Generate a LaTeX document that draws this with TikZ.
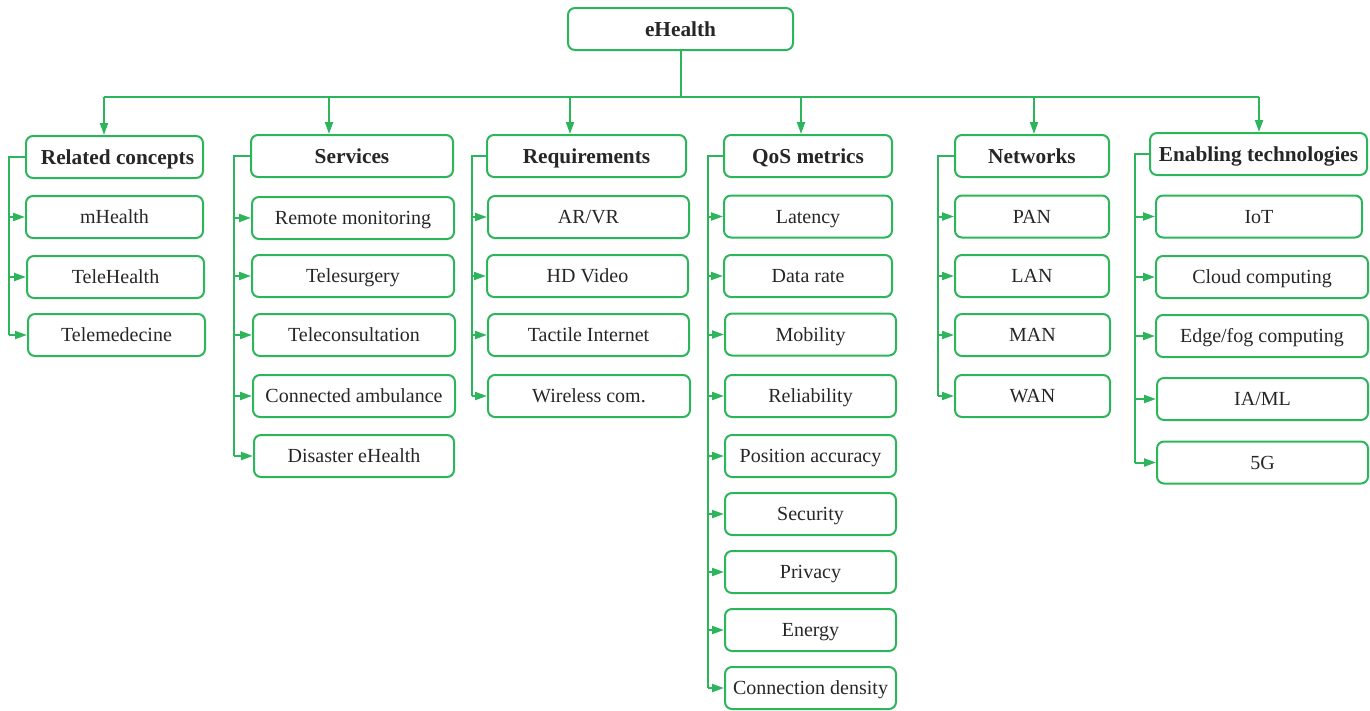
\documentclass[tikz,border=0pt]{standalone}
\usepackage{fontspec}
\setmainfont{Liberation Serif}
\usetikzlibrary{arrows.meta}
\definecolor{lg}{RGB}{44,181,90}
\begin{document}
\begin{tikzpicture}[x=1pt,y=-1pt,
  box/.style={draw=lg, line width=2pt, rounded corners=7pt, minimum height=42pt,
    inner sep=0pt, text height=13pt, text depth=0pt, text=black!85,
    font=\fontsize{20}{24}\selectfont},
  head/.style={box, text height=14pt, font=\fontsize{21.3}{25}\selectfont\bfseries},
  link/.style={draw=lg, line width=2pt},
  arr/.style={link, -{Triangle[length=12pt,width=8pt]}}]
\useasboundingbox (0,0) rectangle (1370,710);

% root
\node[head, minimum width=225pt] (eh) at (680.5,29) {eHealth};

% headings
\node[head, minimum width=177pt] (h1) at (114.5,157) {\hspace{6pt}Related concepts};
\node[head, minimum width=202pt] (h2) at (352,156) {Services};
\node[head, minimum width=199pt] (h3) at (586.5,156) {Requirements};
\node[head, minimum width=168pt] (h4) at (808,156) {QoS metrics};
\node[head, minimum width=154pt] (h5) at (1032,156) {Networks};
\node[head, minimum width=217pt] (h6) at (1258.5,154) {Enabling technologies};

% related concepts
\node[box, minimum width=177pt] (a1) at (114.5,217) {mHealth};
\node[box, minimum width=177pt] (a2) at (115.5,277) {TeleHealth};
\node[box, minimum width=177pt] (a3) at (116.5,335) {Telemedecine};

% services
\node[box, minimum width=202pt] (b1) at (353,218) {Remote monitoring};
\node[box, minimum width=202pt] (b2) at (353,276) {Telesurgery};
\node[box, minimum width=202pt] (b3) at (354,335) {Teleconsultation};
\node[box, minimum width=202pt] (b4) at (354,396) {Connected ambulance};
\node[box, minimum width=200pt] (b5) at (354,456) {Disaster eHealth};

% requirements
\node[box, minimum width=201pt] (c1) at (588.5,217) {AR/VR};
\node[box, minimum width=201pt] (c2) at (587.5,276) {HD Video};
\node[box, minimum width=201pt] (c3) at (588.5,335) {Tactile Internet};
\node[box, minimum width=202pt] (c4) at (589,396) {Wireless com.};

% QoS metrics
\node[box, minimum width=168pt] (d1) at (808,216.5) {Latency};
\node[box, minimum width=168pt] (d2) at (808,276) {Data rate};
\node[box, minimum width=171pt] (d3) at (810.5,334.5) {Mobility};
\node[box, minimum width=171pt] (d4) at (810.5,396) {Reliability};
\node[box, minimum width=171pt] (d5) at (810.5,456) {Position accuracy};
\node[box, minimum width=171pt] (d6) at (810.5,514) {Security};
\node[box, minimum width=171pt] (d7) at (810.5,572) {Privacy};
\node[box, minimum width=171pt] (d8) at (810.5,630) {Energy};
\node[box, minimum width=171pt] (d9) at (810.5,688) {Connection density};

% networks
\node[box, minimum width=154pt] (e1) at (1032,216.5) {PAN};
\node[box, minimum width=154pt] (e2) at (1032,276) {LAN};
\node[box, minimum width=155pt] (e3) at (1032.5,335) {MAN};
\node[box, minimum width=155pt] (e4) at (1032.5,396) {WAN};

% enabling technologies
\node[box, minimum width=206pt] (f1) at (1259,216.5) {IoT};
\node[box, minimum width=212pt] (f2) at (1262,277) {Cloud computing};
\node[box, minimum width=212pt] (f3) at (1262,336) {Edge/fog computing};
\node[box, minimum width=211pt] (f4) at (1262.5,399) {IA/ML};
\node[box, minimum width=211pt] (f5) at (1262.5,462.5) {5G};

% distribution bus
\coordinate (p1) at (104,97);
\coordinate (p2) at (329,97);
\coordinate (p3) at (570,97);
\coordinate (p4) at (801,97);
\coordinate (p5) at (1034,97);
\coordinate (p6) at (1259,97);
\draw[link] (eh.south) -- (eh.south |- p1);
\draw[link] (p1) -- (p6);
\foreach \i in {1,...,6} \draw[arr] (p\i) -- (p\i |- h\i.north);

% trunks
\coordinate (t1) at (9,0);
\coordinate (t2) at (234,0);
\coordinate (t3) at (472,0);
\coordinate (t4) at (708,0);
\coordinate (t5) at (938,0);
\coordinate (t6) at (1135,0);

\draw[link] (h1.west) -| (t1 |- a3.west);
\foreach \n in {a1,a2,a3} \draw[arr] (t1 |- \n.west) -- (\n.west);

\draw[link] (h2.west) -| (t2 |- b5.west);
\foreach \n in {b1,b2,b3,b4,b5} \draw[arr] (t2 |- \n.west) -- (\n.west);

\draw[link] (h3.west) -| (t3 |- c4.west);
\foreach \n in {c1,c2,c3,c4} \draw[arr] (t3 |- \n.west) -- (\n.west);

\draw[link] (h4.west) -| (t4 |- d9.west);
\foreach \n in {d1,d2,d3,d4,d5,d6,d7,d8,d9} \draw[arr] (t4 |- \n.west) -- (\n.west);

\draw[link] (h5.west) -| (t5 |- e4.west);
\foreach \n in {e1,e2,e3,e4} \draw[arr] (t5 |- \n.west) -- (\n.west);

\draw[link] (h6.west) -| (t6 |- f5.west);
\foreach \n in {f1,f2,f3,f4,f5} \draw[arr] (t6 |- \n.west) -- (\n.west);
\end{tikzpicture}
\end{document}
